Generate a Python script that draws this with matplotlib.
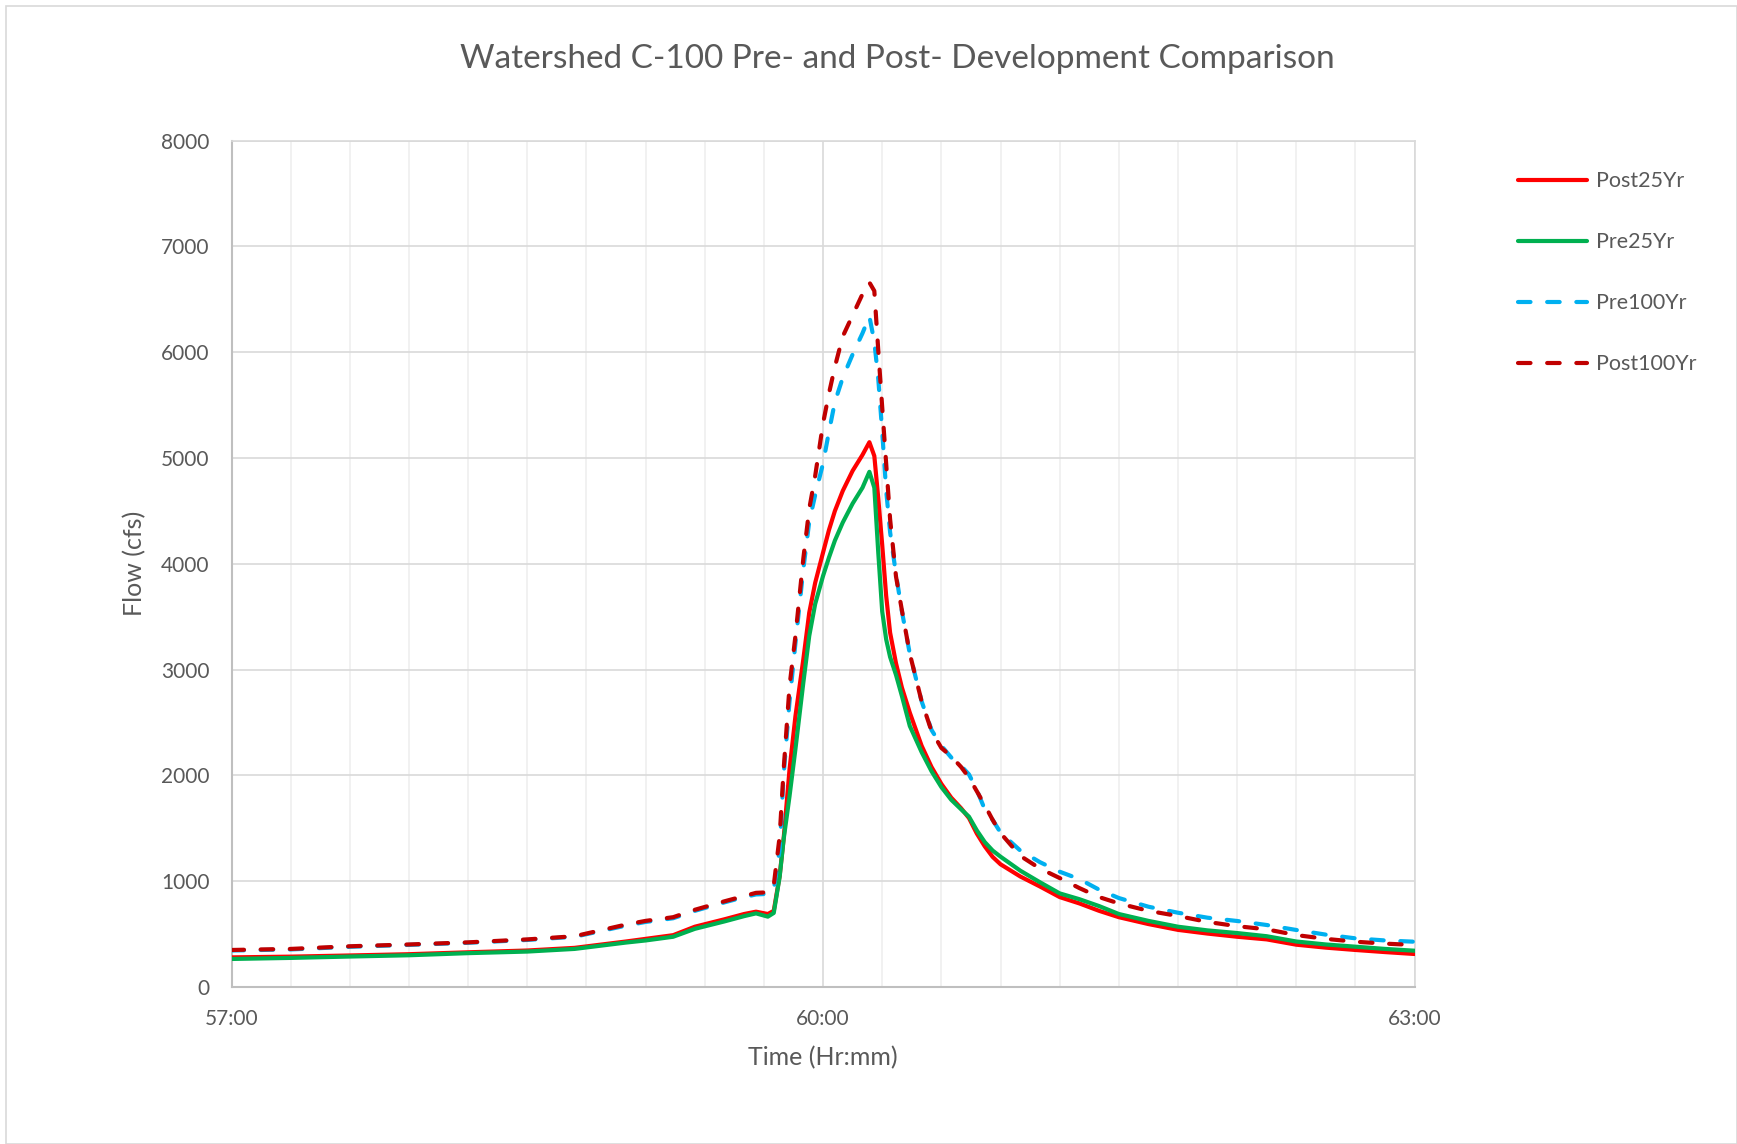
import matplotlib
matplotlib.use("Agg")
import matplotlib.pyplot as plt
from matplotlib.patches import Rectangle
from matplotlib.ticker import MultipleLocator, FixedLocator

plt.rcParams['font.family'] = ['Lato', 'DejaVu Sans']

# ---- data (time in hours) ----
time_hr = [57.0, 57.3, 57.6, 57.9, 58.2, 58.5, 58.74, 59.0, 59.1, 59.24, 59.35, 59.5, 59.6, 59.66,
           59.72, 59.75, 59.78, 59.8, 59.83, 59.86, 59.9, 59.93, 59.96, 60.0, 60.03, 60.06, 60.1,
           60.15, 60.2, 60.235, 60.26, 60.28, 60.3, 60.32, 60.34, 60.37, 60.4, 60.44, 60.5, 60.55,
           60.6, 60.65, 60.7, 60.74, 60.78, 60.82, 60.86, 60.9, 61.0, 61.1, 61.2, 61.3, 61.4, 61.5,
           61.65, 61.8, 61.95, 62.1, 62.25, 62.4, 62.55, 62.7, 62.85, 63.0]

post25 = [280, 287, 298, 310, 328, 345, 370, 430, 455, 490, 570, 640, 690, 712,
          690, 720, 1050, 1400, 2057, 2560, 3098, 3539, 3820, 4107, 4320, 4500, 4690,
          4880, 5030, 5150, 5020, 4620, 4180, 3700, 3350, 3060, 2830, 2593, 2280, 2080,
          1920, 1790, 1690, 1597, 1450, 1330, 1230, 1160, 1045, 950, 850, 790, 720, 660,
          595, 540, 505, 475, 450, 400, 372, 350, 330, 312]

pre25 = [265, 275, 288, 300, 320, 335, 360, 420, 440, 475, 550, 620, 670, 696,
         665, 700, 1043, 1394, 1804, 2250, 2877, 3319, 3620, 3886, 4060, 4220, 4391,
         4570, 4720, 4870, 4720, 4107, 3550, 3287, 3120, 2950, 2750, 2467, 2220, 2040,
         1890, 1770, 1680, 1610, 1480, 1370, 1290, 1232, 1100, 990, 885, 830, 765, 690,
         625, 570, 535, 510, 480, 430, 402, 381, 360, 343]

pre100 = [345, 355, 380, 398, 418, 445, 475, 580, 615, 650, 720, 800, 850, 875,
          880, 920, 1300, 2000, 2700, 3250, 3950, 4400, 4650, 4950, 5250, 5530, 5760,
          5980, 6180, 6340, 6100, 5750, 5250, 4698, 4300, 3900, 3550, 3150, 2700, 2430,
          2280, 2170, 2090, 2010, 1862, 1680, 1580, 1460, 1290, 1180, 1090, 1020, 920, 841,
          759, 702, 655, 624, 586, 539, 495, 460, 440, 428]

post100 = [350, 360, 385, 402, 422, 450, 480, 590, 625, 660, 730, 810, 860, 890,
           895, 960, 1426, 2050, 2845, 3319, 4050, 4520, 4830, 5328, 5611, 5863, 6150,
           6350, 6550, 6660, 6580, 6021, 5480, 4950, 4423, 3880, 3560, 3150, 2700, 2420,
           2260, 2180, 2080, 1980, 1850, 1720, 1580, 1455, 1240, 1120, 1030, 935, 850, 790,
           720, 671, 615, 575, 545, 491, 455, 428, 410, 397]

series_names = ["Post25Yr", "Pre25Yr", "Pre100Yr", "Post100Yr"]
x_tick_values = [57, 60, 63]
x_tick_labels = ["57:00", "60:00", "63:00"]

title = "Watershed C-100 Pre- and Post- Development Comparison"

# ---- figure ----
W, H = 1737, 1144
fig = plt.figure(figsize=(W / 100, H / 100), dpi=100)
fig.patch.set_facecolor("white")
fig.patches.append(Rectangle((6 / W, 0.0), 1 - 6 / W - 0.5 / W, 1 - 6 / H,
                             transform=fig.transFigure, fill=False,
                             edgecolor="#D9D9D9", linewidth=1.2))

ax = fig.add_axes([231.5 / W, 1 - 987 / H, (1414.6 - 231.5) / W, (987 - 140.7) / H])

txt = "#595959"
styles = [
    dict(color="#FF0000", linestyle="-"),
    dict(color="#00B050", linestyle="-"),
    dict(color="#00B0F0", linestyle=(0, (3, 4))),
    dict(color="#C00000", linestyle=(0, (3, 4))),
]
for i, (name, vals, st) in enumerate(zip(series_names, [post25, pre25, pre100, post100], styles)):
    ax.plot(time_hr, vals, label=name, linewidth=3.0, solid_capstyle="round",
            dash_capstyle="round", solid_joinstyle="round", dash_joinstyle="round",
            zorder=3 + i, **st)

ax.set_xlim(57, 63)
ax.set_ylim(0, 8000)
ax.xaxis.set_major_locator(FixedLocator(x_tick_values))
ax.set_xticklabels(x_tick_labels)
ax.xaxis.set_minor_locator(MultipleLocator(0.3))
ax.yaxis.set_major_locator(MultipleLocator(1000))

ax.grid(which="major", axis="both", color="#D9D9D9", linewidth=1.2, zorder=0)
ax.grid(which="minor", axis="x", color="#EFEFEF", linewidth=1.2, zorder=0)
ax.set_axisbelow(True)

for s in ["top", "right"]:
    ax.spines[s].set_color("#D9D9D9")
    ax.spines[s].set_linewidth(1.2)
for s in ["left", "bottom"]:
    ax.spines[s].set_color("#BFBFBF")
    ax.spines[s].set_linewidth(1.5)

ax.tick_params(which="both", length=0)
ax.tick_params(axis="y", pad=16, labelsize=15, labelcolor=txt)
ax.tick_params(axis="x", pad=16, labelsize=15, labelcolor=txt)

ax.set_xlabel("Time (Hr:mm)", fontsize=18, color=txt)
ax.set_ylabel("Flow (cfs)", fontsize=18, color=txt)
ax.xaxis.set_label_coords(0.5, -0.070)
ax.yaxis.set_label_coords(-0.072, 0.5)

fig.text(897 / W, 1 - 59.5 / H, title, fontsize=24, color=txt, ha="center", va="center")

fig.legend(loc="upper left", bbox_to_anchor=(1499 / W, 1 - 152 / H), frameon=False,
           fontsize=15.5, labelcolor=txt, handlelength=3.2, handletextpad=0.4,
           labelspacing=1.9)

fig.savefig("out.png", dpi=100, facecolor="white")
